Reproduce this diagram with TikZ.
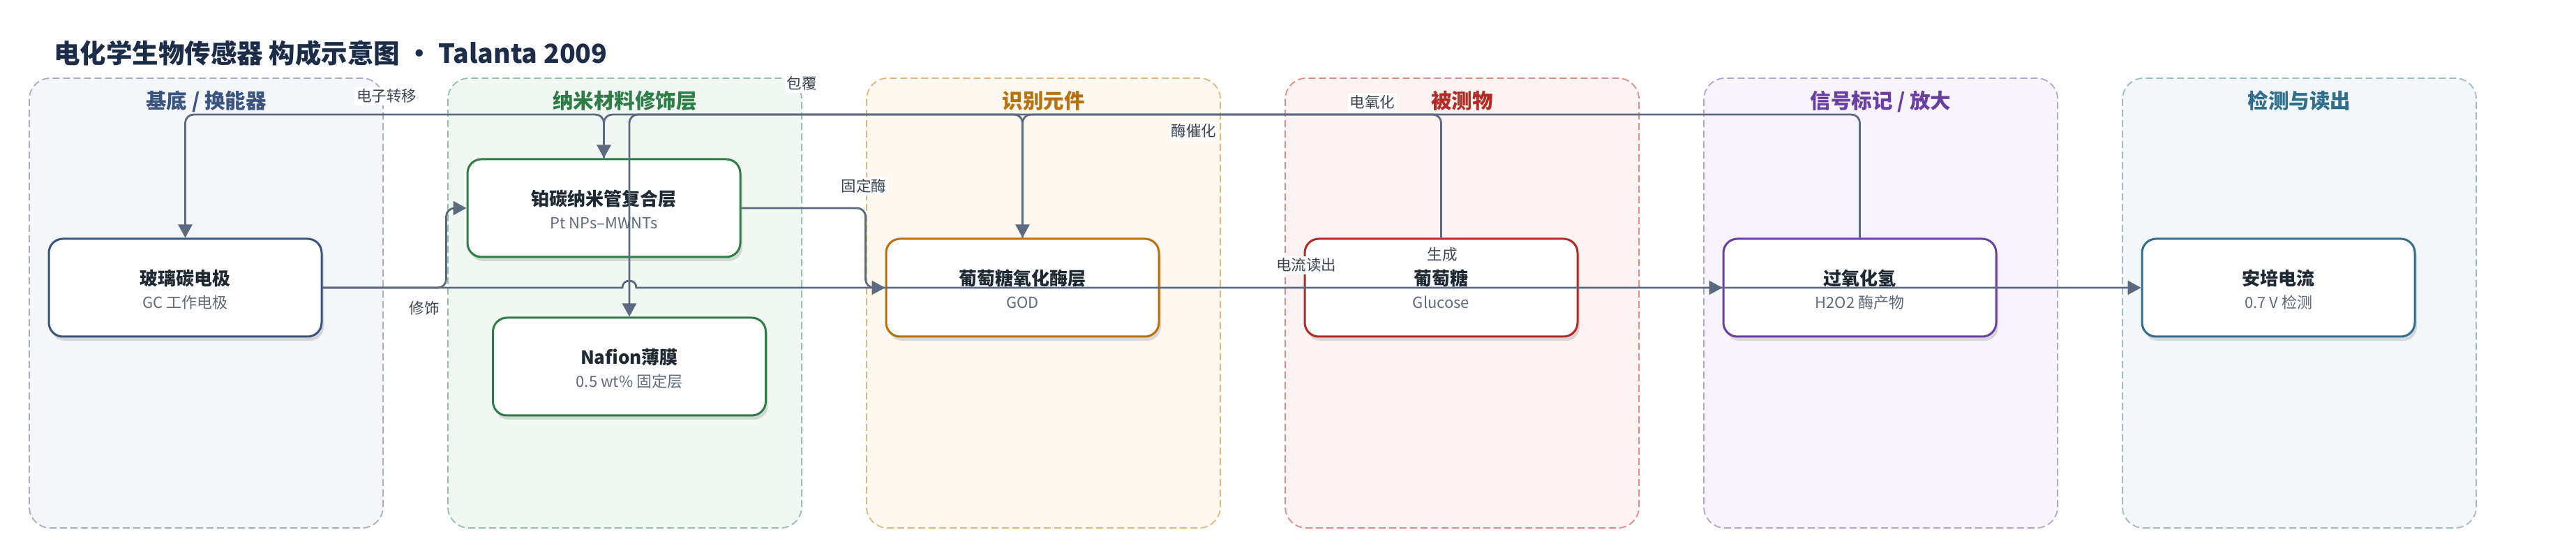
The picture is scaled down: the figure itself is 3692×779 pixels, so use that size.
\documentclass[tikz,border=0pt]{standalone}
\usepackage{fontspec}
\setmainfont{Noto Sans CJK SC}
\usetikzlibrary{arrows.meta,shadows}
\definecolor{ink}{HTML}{1F2933}
\definecolor{subgray}{HTML}{5E6A78}
\definecolor{edgec}{HTML}{5B6A80}
\definecolor{labc}{HTML}{3B4552}
\definecolor{titlec}{HTML}{1C2D4A}
\definecolor{lAf}{HTML}{F4F6FA}\definecolor{lAd}{HTML}{A5B0C6}\definecolor{lAt}{HTML}{3A5580}
\definecolor{lBf}{HTML}{F1F8F3}\definecolor{lBd}{HTML}{93C3A4}\definecolor{lBt}{HTML}{2E7D46}
\definecolor{lCf}{HTML}{FDF8F0}\definecolor{lCd}{HTML}{E4B87C}\definecolor{lCt}{HTML}{B8710B}
\definecolor{lDf}{HTML}{FDF3F2}\definecolor{lDd}{HTML}{E08C88}\definecolor{lDt}{HTML}{B42B25}
\definecolor{lEf}{HTML}{F7F4FB}\definecolor{lEd}{HTML}{B9A2D9}\definecolor{lEt}{HTML}{6A3FA1}
\definecolor{lFf}{HTML}{F3F7F9}\definecolor{lFd}{HTML}{9EBDCC}\definecolor{lFt}{HTML}{2F6F8D}
\newcommand\mkbox[6]{%
  \node[nbox, draw=#4] (#1) at (#2,#3) {};
  \node[ntitle] (#1-t) at ([yshift=1.75pt]#1.center) {#5};
  \node[nsub] (#1-s) at ([yshift=-15pt]#1.center) {#6};
}
\begin{document}
\begin{tikzpicture}[x=0.5pt,y=-0.5pt,
  lane/.style={rounded corners=15pt, dash pattern=on 5pt off 2.5pt, line width=0.9pt},
  lanetitle/.style={font=\bfseries\fontsize{14.75pt}{16pt}\selectfont, anchor=base, inner sep=0pt},
  nbox/.style={rounded corners=10pt, fill=white, line width=1.5pt, minimum width=195.5pt, minimum height=70pt, inner sep=0pt,
    drop shadow={shadow xshift=1.5pt, shadow yshift=-3pt, opacity=0.13, fill=black}},
  ntitle/.style={font=\bfseries\fontsize{13pt}{15pt}\selectfont, text=ink, inner sep=0pt, anchor=base},
  nsub/.style={font=\fontsize{11pt}{13pt}\selectfont, text=subgray, inner sep=0pt, anchor=base},
  conn/.style={draw=edgec, line width=1.4pt, rounded corners=6pt, -{Triangle[length=9.5pt,width=10pt]}},
  elabel/.style={font=\fontsize{10.75pt}{12pt}\selectfont, text=labc, fill=white, inner sep=1.5pt, anchor=base}
]
\useasboundingbox (0,0) rectangle (3692,779);

% title
\node[anchor=base west, font=\bfseries\fontsize{18.75pt}{22pt}\selectfont, text=titlec, inner sep=0pt] (title) at (77,91)
  {电化学生物传感器 构成示意图 · Talanta 2009};

% lanes
\draw[lane, draw=lAd, fill=lAf] (42,112) rectangle (549,756);
\draw[lane, draw=lBd, fill=lBf] (642,112) rectangle (1149,756);
\draw[lane, draw=lCd, fill=lCf] (1242,112) rectangle (1749,756);
\draw[lane, draw=lDd, fill=lDf] (1842,112) rectangle (2349,756);
\draw[lane, draw=lEd, fill=lEf] (2442,112) rectangle (2949,756);
\draw[lane, draw=lFd, fill=lFf] (3042,112) rectangle (3549,756);
\node[lanetitle, text=lAt] (lt1) at (295.5,156) {基底 / 换能器};
\node[lanetitle, text=lBt] (lt2) at (895.5,156) {纳米材料修饰层};
\node[lanetitle, text=lCt] (lt3) at (1495.5,156) {识别元件};
\node[lanetitle, text=lDt] (lt4) at (2095.5,156) {被测物};
\node[lanetitle, text=lEt] (lt5) at (2695.5,156) {信号标记 / 放大};
\node[lanetitle, text=lFt] (lt6) at (3295.5,156) {检测与读出};

% nodes
\mkbox{gc}{265.5}{412}{lAt}{玻璃碳电极}{GC 工作电极}
\mkbox{pt}{865.5}{298}{lBt}{铂碳纳米管复合层}{Pt NPs–MWNTs}
\mkbox{naf}{902}{525}{lBt}{Nafion薄膜}{0.5 wt\% 固定层}
\mkbox{god}{1465.5}{412}{lCt}{葡萄糖氧化酶层}{GOD}
\mkbox{glu}{2065.5}{412}{lDt}{葡萄糖}{Glucose}
\mkbox{hoo}{2665.5}{412}{lEt}{过氧化氢}{H2O2 酶产物}
\mkbox{amp}{3265.5}{412}{lFt}{安培电流}{0.7 V 检测}

% helper coordinates
\coordinate (topy) at (0,164);
\path (naf.north |- gc.east) coordinate (hopC);
\coordinate (hopL) at ([xshift=-5pt]hopC);
\coordinate (hopR) at ([xshift=5pt]hopC);

% connectors
\draw[conn] (gc.east) -| ([xshift=-14.5pt]pt.west) -- (pt.west);
\draw[conn] (pt.north) -- (pt.north |- topy) -| (gc.north);
\draw[conn] (god.north) -- (god.north |- topy) -| (naf.north);
\draw[conn] (pt.east) -| ([xshift=-14pt]god.west) -- (god.west);
\draw[conn] (glu.north) -- (glu.north |- topy) -| (god.north);
\draw[conn] (god.east) -- (hoo.west);
\draw[conn] (hoo.north) -- (hoo.north |- topy) -| (pt.north);
\draw[conn, sharp corners] (gc.east) -- (hopL) .. controls +(0,-13.3) and +(0,-13.3) .. (hopR) -- (amp.west);

% edge labels
\node[elabel] (lb1) at (608,450) {修饰};
\node[elabel] (lb2) at (554,146) {电子转移};
\node[elabel] (lb3) at (1149,128) {包覆};
\node[elabel] (lb4) at (1238,275) {固定酶};
\node[elabel] (lb5) at (1711,196) {酶催化};
\node[elabel] (lb6) at (1967,155) {电氧化};
\node[elabel] (lb7) at (2067,373) {生成};
\node[elabel] (lb8) at (1872,388) {电流读出};
\end{tikzpicture}
\end{document}
